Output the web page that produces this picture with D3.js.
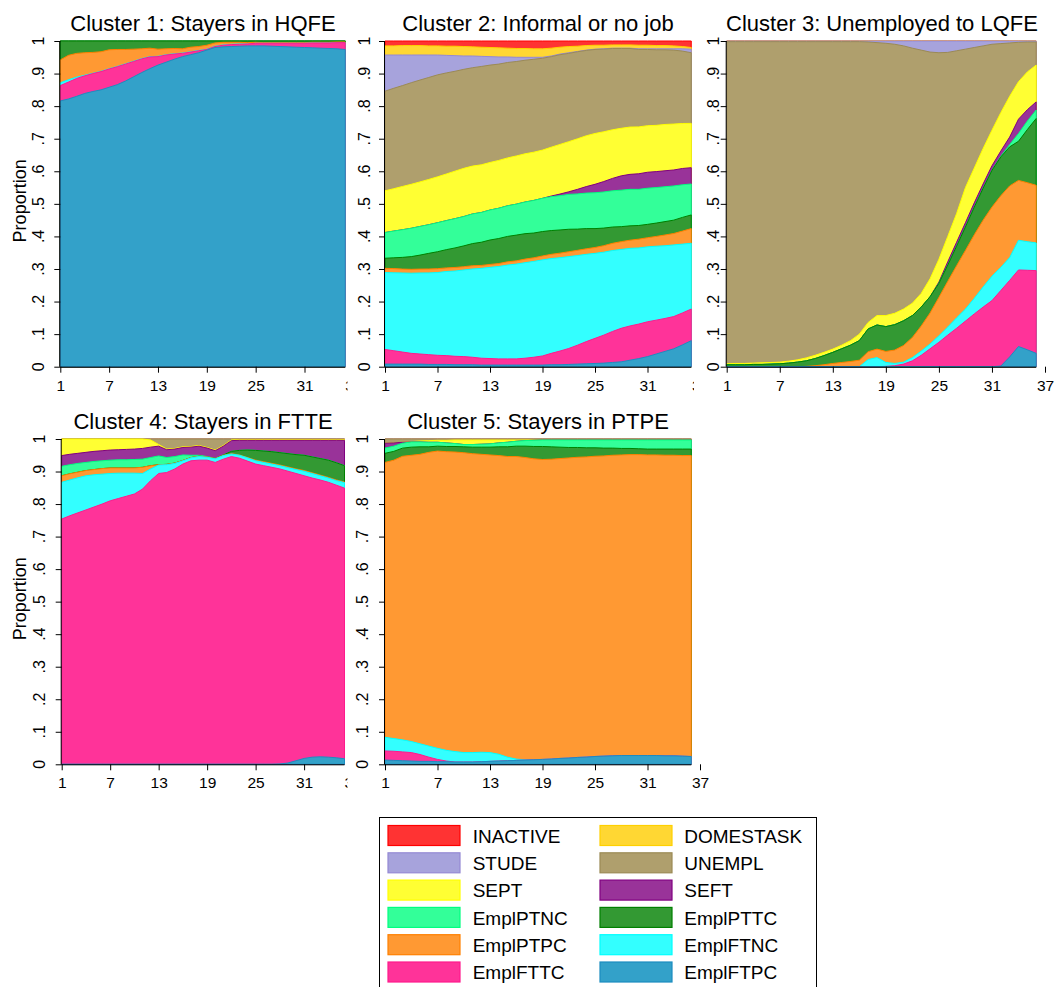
<!DOCTYPE html>
<html><head><meta charset="utf-8">
<script src="https://cdn.jsdelivr.net/npm/d3@7/dist/d3.min.js"></script>
<style>
body{margin:0;background:#fff;}
svg{display:block;font-family:"Liberation Sans",Arial,Helvetica,sans-serif;}
</style>
</head><body>
<svg id="chart" width="1054" height="987"></svg>
<script>
// ---------- categories / labels ----------
const months = [1,2,3,4,5,6,7,8,9,10,11,12,13,14,15,16,17,18,19,20,21,22,23,24,25,26,27,28,29,30,31,32,33,34,35,36];
const statusKeys = ["EmplFTPC","EmplFTTC","EmplFTNC","EmplPTPC","EmplPTTC","EmplPTNC","SEFT","SEPT","UNEMPL","STUDE","DOMESTASK","INACTIVE"];
const fillColors   = ["#33A1C9","#FF3399","#33FFFF","#FF9933","#339933","#33FF99","#993399","#FFFF33","#AF9F6D","#A7A3DC","#FFD733","#FF3333"];
const strokeColors = ["#1C8DC0","#FF1A8C","#00FFFF","#FF8000","#008000","#00FF80","#800080","#FFFF00","#9B8A55","#9489D4","#FFD000","#FF0000"];
const clusterTitles = ["Cluster 1: Stayers in HQFE","Cluster 2: Informal or no job","Cluster 3: Unemployed to LQFE","Cluster 4: Stayers in FTTE","Cluster 5: Stayers in PTPE"];
const xTicks = [1,7,13,19,25,31,37];
const yTicks = [0,0.1,0.2,0.3,0.4,0.5,0.6,0.7,0.8,0.9,1];
const yTickLabels = ["0",".1",".2",".3",".4",".5",".6",".7",".8",".9","1"];
const yTitle = "Proportion";
const legendOrder = ["INACTIVE","DOMESTASK","STUDE","UNEMPL","SEPT","SEFT","EmplPTNC","EmplPTTC","EmplPTPC","EmplFTNC","EmplFTTC","EmplFTPC"];

// ---------- values (proportions per month) ----------
const zero36 = [0,0,0,0,0,0,0,0,0,0, 0,0,0,0,0,0,0,0,0,0, 0,0,0,0,0,0,0,0,0,0, 0,0,0,0,0,0];

// Cluster 1
const c1_EmplFTPC = [.816,.822,.830,.839,.845,.850,.858,.866,.877,.890, .903,.915,.926,.935,.944,.952,.958,.964,.972,.980, .982,.983,.984,.985,.985,.985,.984,.983,.982,.981, .980,.979,.978,.977,.976,.974];
const c1_EmplFTTC = [.047,.052,.055,.054,.055,.056,.056,.055,.052,.047, .042,.036,.026,.022,.016,.010,.008,.006,.002,.003, .005,.006,.006,.006,.008,.008,.009,.010,.011,.012, .013,.015,.016,.017,.019,.021];
const c1_EmplFTNC = [.009,.007,.004,.002,.001,.001,.001,.001,.001,.001, .001,.001,.001,.001,.001,.001,.001,.001,.001,.001, .001,.001,.001,0,0,0,0,0,0,0, 0,0,0,0,0,0];
const c1_EmplPTPC = [.070,.075,.073,.069,.064,.060,.058,.052,.044,.037, .030,.026,.022,.018,.016,.013,.014,.012,.012,.010, .008,.006,.005,.004,.003,.002,.002,.002,.002,.002, .002,.002,.002,.002,.002,.002];
const c1_EmplPTTC = [.058,.044,.038,.036,.035,.033,.027,.026,.026,.025, .024,.022,.025,.024,.023,.024,.019,.017,.013,.006, .004,.004,.004,.005,.004,.005,.005,.005,.005,.005, .005,.004,.004,.004,.003,.003];

// Cluster 2
const c2_EmplFTPC = [.008,.008,.008,.008,.008,.007,.007,.007,.006,.006, .006,.005,.005,.005,.005,.005,.005,.005,.005,.006, .006,.007,.008,.009,.010,.011,.013,.015,.020,.025, .031,.039,.047,.055,.067,.080];
const c2_EmplFTTC = [.045,.041,.037,.033,.031,.030,.028,.027,.026,.025, .023,.021,.020,.019,.019,.019,.021,.024,.028,.035, .042,.049,.058,.068,.077,.086,.095,.103,.105,.106, .107,.104,.101,.099,.098,.097];
const c2_EmplFTNC = [.236,.239,.243,.246,.249,.251,.254,.258,.262,.266, .271,.275,.280,.284,.288,.291,.293,.294,.295,.291, .286,.282,.275,.268,.261,.255,.248,.242,.238,.234, .230,.227,.223,.220,.211,.202];
const c2_EmplPTPC = [.013,.013,.012,.012,.012,.012,.012,.011,.011,.010, .010,.009,.009,.009,.010,.010,.011,.011,.012,.013, .014,.015,.016,.017,.018,.020,.022,.024,.025,.027, .028,.030,.033,.035,.040,.045];
const c2_EmplPTTC = [.031,.033,.036,.039,.043,.048,.052,.056,.060,.064, .068,.071,.075,.077,.078,.079,.078,.076,.075,.073, .071,.069,.065,.062,.058,.054,.050,.046,.044,.042, .041,.041,.041,.041,.042,.042];
const c2_EmplPTNC = [.079,.082,.085,.087,.088,.088,.089,.089,.090,.090, .091,.091,.092,.093,.094,.095,.097,.100,.102,.104, .105,.107,.108,.109,.110,.111,.111,.112,.112,.111, .111,.109,.107,.105,.100,.095];
const c2_SEFT      = [0,0,0,0,0,0,0,0,0,0, 0,0,0,0,0,0,0,0,0,.002, .005,.008,.014,.020,.026,.032,.038,.044,.046,.048, .049,.049,.049,.049,.050,.050];
const c2_SEPT      = [.128,.130,.133,.135,.137,.139,.141,.143,.146,.148, .147,.146,.146,.147,.147,.148,.148,.148,.148,.150, .152,.154,.155,.156,.156,.153,.149,.146,.145,.144, .143,.142,.142,.141,.138,.136];
const c2_UNEMPL    = [.306,.308,.310,.312,.313,.313,.313,.310,.307,.304, .302,.301,.299,.296,.293,.290,.287,.285,.282,.278, .275,.271,.267,.262,.258,.254,.249,.245,.241,.238, .234,.232,.229,.227,.222,.217];
const c2_STUDE     = [.111,.102,.094,.085,.077,.069,.061,.054,.048,.041, .036,.031,.026,.022,.017,.013,.009,.006,.003,.002, .002,.002,.001,.001,.001,.001,.001,.001,.001,.002, .002,.003,.003,.004,.007,.011];
const c2_DOMESTASK = [.028,.028,.029,.029,.029,.028,.028,.028,.029,.029, .028,.028,.028,.028,.027,.027,.027,.026,.026,.024, .021,.019,.016,.014,.012,.011,.010,.010,.010,.011, .011,.010,.010,.009,.007,.005];
const c2_INACTIVE  = [.015,.015,.014,.014,.014,.015,.015,.016,.016,.017, .018,.019,.020,.021,.022,.023,.023,.024,.024,.022, .019,.017,.016,.014,.013,.013,.012,.012,.012,.013, .013,.014,.014,.015,.017,.020];

// Cluster 3
const c3_EmplFTPC = [0,0,0,0,0,0,0,0,0,0, 0,0,0,0,0,0,0,0,0,0, 0,0,0,0,0,0,0,0,0,0, 0,.002,.030,.062,.052,.041];
const c3_EmplFTTC = [0,0,0,0,0,0,0,0,0,0, 0,0,0,0,0,0,0,0,.001,.003, .008,.018,.035,.055,.075,.097,.118,.140,.162,.183, .203,.232,.235,.235,.244,.254];
const c3_EmplFTNC = [0,0,0,0,0,0,0,0,0,0, 0,0,0,0,0,0,.022,.028,.012,.007, .006,.010,.013,.015,.020,.025,.032,.037,.048,.062, .075,.071,.070,.091,.088,.085];
const c3_EmplPTPC = [0,0,0,0,0,0,0,0,0,.001, .003,.006,.010,.013,.016,.020,.024,.026,.034,.041, .051,.062,.077,.095,.118,.140,.160,.180,.195,.205, .212,.220,.220,.184,.181,.177];
const c3_EmplPTTC = [.006,.006,.006,.007,.007,.008,.009,.011,.014,.017, .022,.028,.034,.042,.050,.060,.070,.074,.076,.078, .076,.067,.058,.050,.043,.050,.060,.072,.085,.098, .113,.119,.120,.120,.163,.205];
const c3_EmplPTNC = [0,0,0,0,0,0,0,0,0,0, 0,0,0,0,0,0,0,0,0,0, 0,0,0,0,0,0,0,0,0,0, 0,.002,.007,.024,.026,.026];
const c3_SEFT     = [0,0,0,0,0,0,0,0,0,0, 0,0,0,0,0,0,0,0,0,0, 0,0,0,0,.004,.010,.012,.013,.013,.013, .014,.016,.023,.044,.035,.025];
const c3_SEPT     = [.003,.004,.004,.004,.005,.005,.005,.006,.007,.009, .010,.010,.010,.011,.014,.020,.020,.029,.034,.035, .036,.038,.042,.055,.070,.078,.088,.108,.107,.109, .109,.118,.125,.115,.116,.113];
const c3_UNEMPL   = [.989,.988,.988,.987,.986,.985,.984,.981,.977,.971, .963,.954,.944,.932,.918,.898,.861,.838,.836,.826, .808,.783,.747,.696,.634,.565,.500,.425,.370,.315, .264,.212,.164,.121,.092,.071];
const c3_STUDE    = [.002,.002,.002,.002,.002,.002,.002,.002,.002,.002, .002,.002,.002,.002,.002,.002,.003,.005,.007,.010, .015,.022,.028,.034,.036,.035,.030,.025,.020,.015, .010,.008,.006,.004,.003,.003];

// Cluster 4
const c4_EmplFTPC = [0,0,0,0,0,0,0,0,0,0, 0,0,0,0,0,0,0,0,0,0, 0,0,0,0,0,0,0,.001,.004,.011, .018,.022,.023,.022,.020,.017];
const c4_EmplFTTC = [.754,.764,.773,.782,.791,.800,.810,.817,.824,.831, .846,.872,.894,.897,.908,.923,.933,.935,.935,.928, .938,.946,.941,.932,.923,.918,.913,.907,.897,.883, .869,.858,.851,.845,.838,.832];
const c4_EmplFTNC = [.113,.110,.108,.105,.099,.092,.084,.078,.071,.064, .048,.036,.026,.024,.017,.010,.009,.011,.009,.011, .011,.008,.009,.010,.010,.010,.010,.010,.011,.012, .014,.014,.013,.013,.014,.017];
const c4_EmplPTPC = [.020,.019,.017,.016,.016,.017,.017,.016,.016,.016, .019,.010,.001,.001,.001,.001,.001,.001,.001,.001, .001,.001,.001,.001,.002,.002,.002,.002,.002,.002, .002,.002,.002,.002,.002,.002];
const c4_EmplPTTC = [0,0,0,0,0,0,0,0,0,0, 0,0,0,0,0,0,0,0,0,0, .001,.007,.014,.023,.030,.033,.036,.038,.041,.044, .047,.049,.051,.053,.053,.050];
const c4_EmplPTNC = [.029,.028,.027,.025,.025,.024,.024,.025,.025,.026, .025,.025,.027,.021,.020,.017,.007,.003,.001,0, 0,0,0,0,0,0,0,0,0,0, 0,0,0,0,0,0];
const c4_SEFT     = [.033,.032,.031,.031,.031,.031,.031,.031,.032,.032, .033,.032,.030,.024,.023,.023,.025,.028,.026,.024, .027,.033,.031,.030,.031,.033,.035,.038,.041,.044, .046,.051,.056,.061,.069,.078];
const c4_SEPT     = [.051,.047,.044,.041,.038,.036,.034,.033,.032,.031, .029,.022,.005,.002,.002,.002,.002,.002,.002,.002, .002,.002,.002,.002,.002,.002,.002,.002,.002,.002, .002,.002,.002,.002,.002,.002];
const c4_UNEMPL   = [0,0,0,0,0,0,0,0,0,0, 0,.003,.017,.031,.029,.024,.023,.020,.026,.034, .020,.003,.002,.002,.002,.002,.002,.002,.002,.002, .002,.002,.002,.002,.002,.002];

// Cluster 5
const c5_EmplFTPC = [.013,.012,.011,.010,.009,.009,.008,.008,.007,.007, .007,.008,.009,.010,.011,.012,.013,.014,.015,.016, .018,.019,.021,.022,.024,.025,.026,.027,.027,.027, .027,.027,.026,.026,.025,.024];
const c5_EmplFTTC = [.028,.028,.027,.026,.021,.013,.007,.002,0,0, 0,0,0,0,0,0,0,0,0,0, 0,0,0,0,0,0,0,0,0,0, 0,0,0,0,0,0];
const c5_EmplFTNC = [.042,.039,.037,.034,.033,.034,.034,.033,.032,.029, .029,.029,.027,.021,.011,.004,.001,0,0,0, 0,0,0,0,0,0,0,0,0,0, 0,0,0,0,0,0];
const c5_EmplPTPC = [.845,.854,.869,.878,.889,.901,.912,.917,.919,.920, .917,.915,.915,.919,.927,.932,.931,.927,.922,.920, .919,.920,.920,.922,.922,.923,.924,.924,.925,.925, .925,.925,.926,.925,.926,.926];
const c5_EmplPTTC = [.028,.027,.025,.025,.023,.017,.015,.016,.017,.018, .020,.022,.024,.027,.030,.032,.035,.038,.040,.038, .035,.032,.030,.028,.026,.024,.022,.020,.019,.018, .018,.018,.019,.019,.020,.020];
const c5_EmplPTNC = [.016,.016,.015,.016,.015,.014,.012,.011,.009,.007, .008,.009,.010,.012,.014,.015,.017,.019,.020,.021, .022,.023,.023,.024,.024,.025,.025,.026,.026,.027, .028,.028,.028,.028,.028,.028];
const c5_SEFT     = [.015,.010,.003,0,0,0,0,0,0,0, 0,0,0,0,0,0,0,0,0,0, 0,0,0,0,0,0,0,0,0,0, 0,0,0,0,0,0];
const c5_SEPT     = [0,0,0,.001,.003,.005,.006,.008,.011,.014, .014,.013,.012,.009,.007,.004,.002,.001,0,0, 0,0,0,0,0,0,0,0,0,0, 0,0,0,0,0,0];
const c5_UNEMPL   = [.013,.012,.010,.008,.006,.005,.004,.004,.003,.003, .003,.003,.003,.003,.003,.003,.003,.003,.003,.003, .003,.003,.003,.003,.003,.003,.003,.003,.003,.003, .003,.003,.003,.003,.003,.003];

// series lists per cluster, in statusKeys order
const clusterSeries = [
  [c1_EmplFTPC,c1_EmplFTTC,c1_EmplFTNC,c1_EmplPTPC,c1_EmplPTTC,zero36,zero36,zero36,zero36,zero36,zero36,zero36],
  [c2_EmplFTPC,c2_EmplFTTC,c2_EmplFTNC,c2_EmplPTPC,c2_EmplPTTC,c2_EmplPTNC,c2_SEFT,c2_SEPT,c2_UNEMPL,c2_STUDE,c2_DOMESTASK,c2_INACTIVE],
  [c3_EmplFTPC,c3_EmplFTTC,c3_EmplFTNC,c3_EmplPTPC,c3_EmplPTTC,c3_EmplPTNC,c3_SEFT,c3_SEPT,c3_UNEMPL,c3_STUDE,zero36,zero36],
  [c4_EmplFTPC,c4_EmplFTTC,c4_EmplFTNC,c4_EmplPTPC,c4_EmplPTTC,c4_EmplPTNC,c4_SEFT,c4_SEPT,c4_UNEMPL,zero36,zero36,zero36],
  [c5_EmplFTPC,c5_EmplFTTC,c5_EmplFTNC,c5_EmplPTPC,c5_EmplPTTC,c5_EmplPTNC,c5_SEFT,c5_SEPT,c5_UNEMPL,zero36,zero36,zero36]
];

// ---------- layout ----------
const panels = [
  {x0:60.3,  unit:8.14,  top:41,  bottom:366.7, clip:[0,347.5],    titleX:203, titleY:30.5, yLabX:43.5, yTitle:true},
  {x0:385,   unit:8.75,  top:41,  bottom:366.7, clip:[347.5,694],  titleX:538, titleY:30.5, yLabX:370,  yTitle:false},
  {x0:726.7, unit:8.842, top:41,  bottom:366.7, clip:[694,1054],   titleX:882, titleY:30.5, yLabX:719,  yTitle:false},
  {x0:61.7,  unit:8.08,  top:439, bottom:764.3, clip:[0,347.5],    titleX:203, titleY:428.5, yLabX:45,   yTitle:true},
  {x0:385,   unit:8.75,  top:439, bottom:764.3, clip:[347.5,712],  titleX:538, titleY:428.5, yLabX:368,  yTitle:false}
];

const svg = d3.select("#chart");
const defs = svg.append("defs");
const colorFill = d3.scaleOrdinal().domain(statusKeys).range(fillColors);
const colorStroke = d3.scaleOrdinal().domain(statusKeys).range(strokeColors);

panels.forEach((p, ci) => {
  const rows = months.map((m, i) => {
    const r = {month: m};
    statusKeys.forEach((k, j) => { r[k] = clusterSeries[ci][j][i]; });
    return r;
  });
  const stacked = d3.stack().keys(statusKeys).offset(d3.stackOffsetExpand)(rows);

  const x = d3.scaleLinear().domain([1, 37]).range([p.x0, p.x0 + 36 * p.unit]);
  const y = d3.scaleLinear().domain([0, 1]).range([p.bottom, p.top]);

  const clipId = "clip" + ci;
  defs.append("clipPath").attr("id", clipId).append("rect")
    .attr("x", p.clip[0]).attr("y", p.top - 45).attr("width", p.clip[1] - p.clip[0]).attr("height", p.bottom - p.top + 80);

  const g = svg.append("g").attr("clip-path", `url(#${clipId})`);

  // areas: cumulative areas drawn from top-most status down (bottom statuses drawn last)
  const area = d3.area().x(d => x(d.data.month)).y0(y(0)).y1(d => y(d[1]));
  for (let j = stacked.length - 1; j >= 0; j--) {
    const s = stacked[j];
    g.append("path").datum(s)
      .attr("d", area)
      .attr("fill", colorFill(s.key))
      .attr("stroke", colorStroke(s.key))
      .attr("stroke-width", 1)
      .attr("stroke-linejoin", "round");
  }

  // x axis
  const xAxis = d3.axisBottom(x).tickValues(xTicks).tickSize(6).tickPadding(7).tickFormat(d3.format("d"));
  const gx = g.append("g").attr("transform", `translate(0,${p.bottom})`).call(xAxis);
  gx.select(".domain").remove();
  gx.selectAll(".tick line").attr("stroke", "#000").attr("stroke-width", 1);
  gx.selectAll(".tick text").attr("font-size", 15.5).attr("fill", "#000")
    .attr("font-family", '"Liberation Sans",Arial,sans-serif');
  g.append("line").attr("x1", x(1)).attr("x2", x(36)).attr("y1", p.bottom + 0.5).attr("y2", p.bottom + 0.5)
    .attr("stroke", "#000").attr("stroke-width", 1);

  // y axis
  const yAxis = d3.axisLeft(y).tickValues(yTicks).tickSize(6).tickFormat(() => "");
  const gy = g.append("g").attr("transform", `translate(${p.x0},0)`).call(yAxis);
  gy.select(".domain").attr("stroke", "#000").attr("d", `M-0.5,${p.bottom}V${p.top}`);
  gy.selectAll(".tick line").attr("stroke", "#000");
  g.selectAll(".ylab").data(yTicks).enter().append("text")
    .attr("transform", (d) => `translate(${p.yLabX},${y(d)}) rotate(-90)`)
    .attr("text-anchor", "middle")
    .attr("font-size", 16)
    .attr("fill", "#000")
    .text((d, i) => yTickLabels[i]);

  if (p.yTitle) {
    g.append("text")
      .attr("transform", `translate(26,${(p.top + p.bottom) / 2 - 3}) rotate(-90)`)
      .attr("text-anchor", "middle")
      .attr("font-size", 18)
      .attr("fill", "#000")
      .text(yTitle);
  }

  g.append("text").attr("x", p.titleX).attr("y", p.titleY)
    .attr("text-anchor", "middle").attr("font-size", 22).attr("fill", "#000")
    .text(clusterTitles[ci]);
});

// ---------- legend ----------
const lg = svg.append("g");
lg.append("rect").attr("x", 379.5).attr("y", 817.5).attr("width", 437).attr("height", 185)
  .attr("fill", "#fff").attr("stroke", "#000").attr("stroke-width", 1);
legendOrder.forEach((key, i) => {
  const col = i % 2, row = Math.floor(i / 2);
  const sx = col === 0 ? 388 : 600;
  const tx = col === 0 ? 472.7 : 684.3;
  const sy = 825.5 + row * 27.3;
  const idx = statusKeys.indexOf(key);
  lg.append("rect").attr("x", sx).attr("y", sy).attr("width", 72).attr("height", 20)
    .attr("fill", fillColors[idx]).attr("stroke", strokeColors[idx]).attr("stroke-width", 1.2);
  lg.append("text").attr("x", tx).attr("y", sy + 17.3).attr("font-size", 19).attr("fill", "#000").text(key);
});
</script>
</body></html>
